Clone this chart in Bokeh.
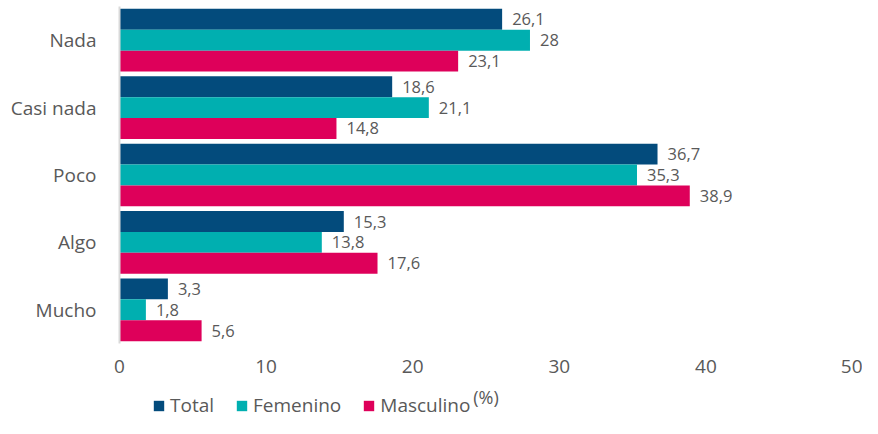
from bokeh.plotting import figure
from bokeh.models import ColumnDataSource, FactorRange, Range1d, Legend, LegendItem, FixedTicker, Label
from bokeh.layouts import column
from bokeh.transform import dodge
from bokeh.core.properties import value
from bokeh.embed import file_html
from bokeh.resources import INLINE

categories = ["Nada", "Casi nada", "Poco", "Algo", "Mucho"]
total = [26.1, 18.6, 36.7, 15.3, 3.3]
femenino = [28, 21.1, 35.3, 13.8, 1.8]
masculino = [23.1, 14.8, 38.9, 17.6, 5.6]
series_names = ["Total", "Femenino", "Masculino"]
colors = ["#034b7c", "#00afb0", "#de005a"]
x_ticks = [0, 10, 20, 30, 40, 50]
x_label = "(%)"

def fmt(v):
    s = ("%g" % v)
    return s.replace(".", ",")

src = ColumnDataSource(dict(
    cat=categories,
    total=total, femenino=femenino, masculino=masculino,
    total_lbl=[fmt(v) for v in total],
    femenino_lbl=[fmt(v) for v in femenino],
    masculino_lbl=[fmt(v) for v in masculino],
))

FONT = "Open Sans"
GREY = "#595959"

xr = Range1d(0, 50)
p = figure(width=862, height=383, output_backend="svg", toolbar_location=None,
           y_range=FactorRange(*reversed(categories)), x_range=xr,
           min_border_left=119, min_border_right=10, min_border_top=6, min_border_bottom=40)
p.outline_line_color = None
p.xgrid.grid_line_color = None
p.ygrid.grid_line_color = None

bh = 0.31
offsets = [bh, 0.0, -bh]
keys = ["total", "femenino", "masculino"]
for k, off, c in zip(keys, offsets, colors):
    p.hbar(y=dodge("cat", off, range=p.y_range), right=k, left=0, height=bh,
           source=src, fill_color=c, line_color=None)
    p.text(x=k, y=dodge("cat", off, range=p.y_range), text=k + "_lbl", source=src,
           x_offset=10, text_baseline="middle", text_align="left",
           text_font=value(FONT), text_font_size="16.5px", text_color=GREY)

# axes
p.xaxis.ticker = FixedTicker(ticks=x_ticks)
p.xaxis.axis_line_color = None
p.xaxis.major_tick_line_color = None
p.xaxis.minor_tick_line_color = None
p.xaxis.major_label_text_font = FONT
p.xaxis.major_label_text_font_size = "19px"
p.xaxis.major_label_text_color = GREY
p.xaxis.major_label_standoff = 10

p.yaxis.axis_line_color = "#d9d9d9"
p.yaxis.axis_line_width = 2
p.yaxis.major_tick_line_color = None
p.yaxis.minor_tick_line_color = None
p.yaxis.major_label_text_font = FONT
p.yaxis.major_label_text_font_size = "19px"
p.yaxis.major_label_text_color = GREY
p.yaxis.major_label_standoff = 17

# legend strip with the axis title
lg = figure(width=862, height=35, output_backend="svg", toolbar_location=None,
            x_range=xr, y_range=Range1d(0, 1),
            min_border_left=119, min_border_right=10, min_border_top=0, min_border_bottom=0)
lg.axis.visible = False
lg.grid.grid_line_color = None
lg.outline_line_color = None
proxy_src = ColumnDataSource(dict(y=[0], total=[total[0]], femenino=[femenino[0]], masculino=[masculino[0]]))
legend_renderers = []
for k, c in zip(keys, colors):
    r = lg.hbar(y="y", right=k, left=0, height=1, source=proxy_src,
                fill_color=c, line_color=None, visible=False)
    legend_renderers.append(r)
legend = Legend(items=[LegendItem(label=n, renderers=[r]) for n, r in zip(series_names, legend_renderers)],
                orientation="horizontal", location=(33, 0),
                glyph_width=13, glyph_height=13, label_standoff=5, spacing=21,
                padding=0, margin=0, border_line_color=None, background_fill_alpha=0,
                inactive_fill_alpha=0,
                label_text_font=FONT, label_text_font_size="19px", label_text_color=GREY,
                label_height=13)
lg.add_layout(legend, "center")
lg.add_layout(Label(x=(xr.start + xr.end) / 2, y=22, y_units="screen", text=x_label,
                    text_align="center", text_baseline="middle",
                    text_font=FONT, text_font_size="18px", text_color=GREY))

open("out.html", "w").write(file_html(column(p, lg, spacing=0), INLINE))
